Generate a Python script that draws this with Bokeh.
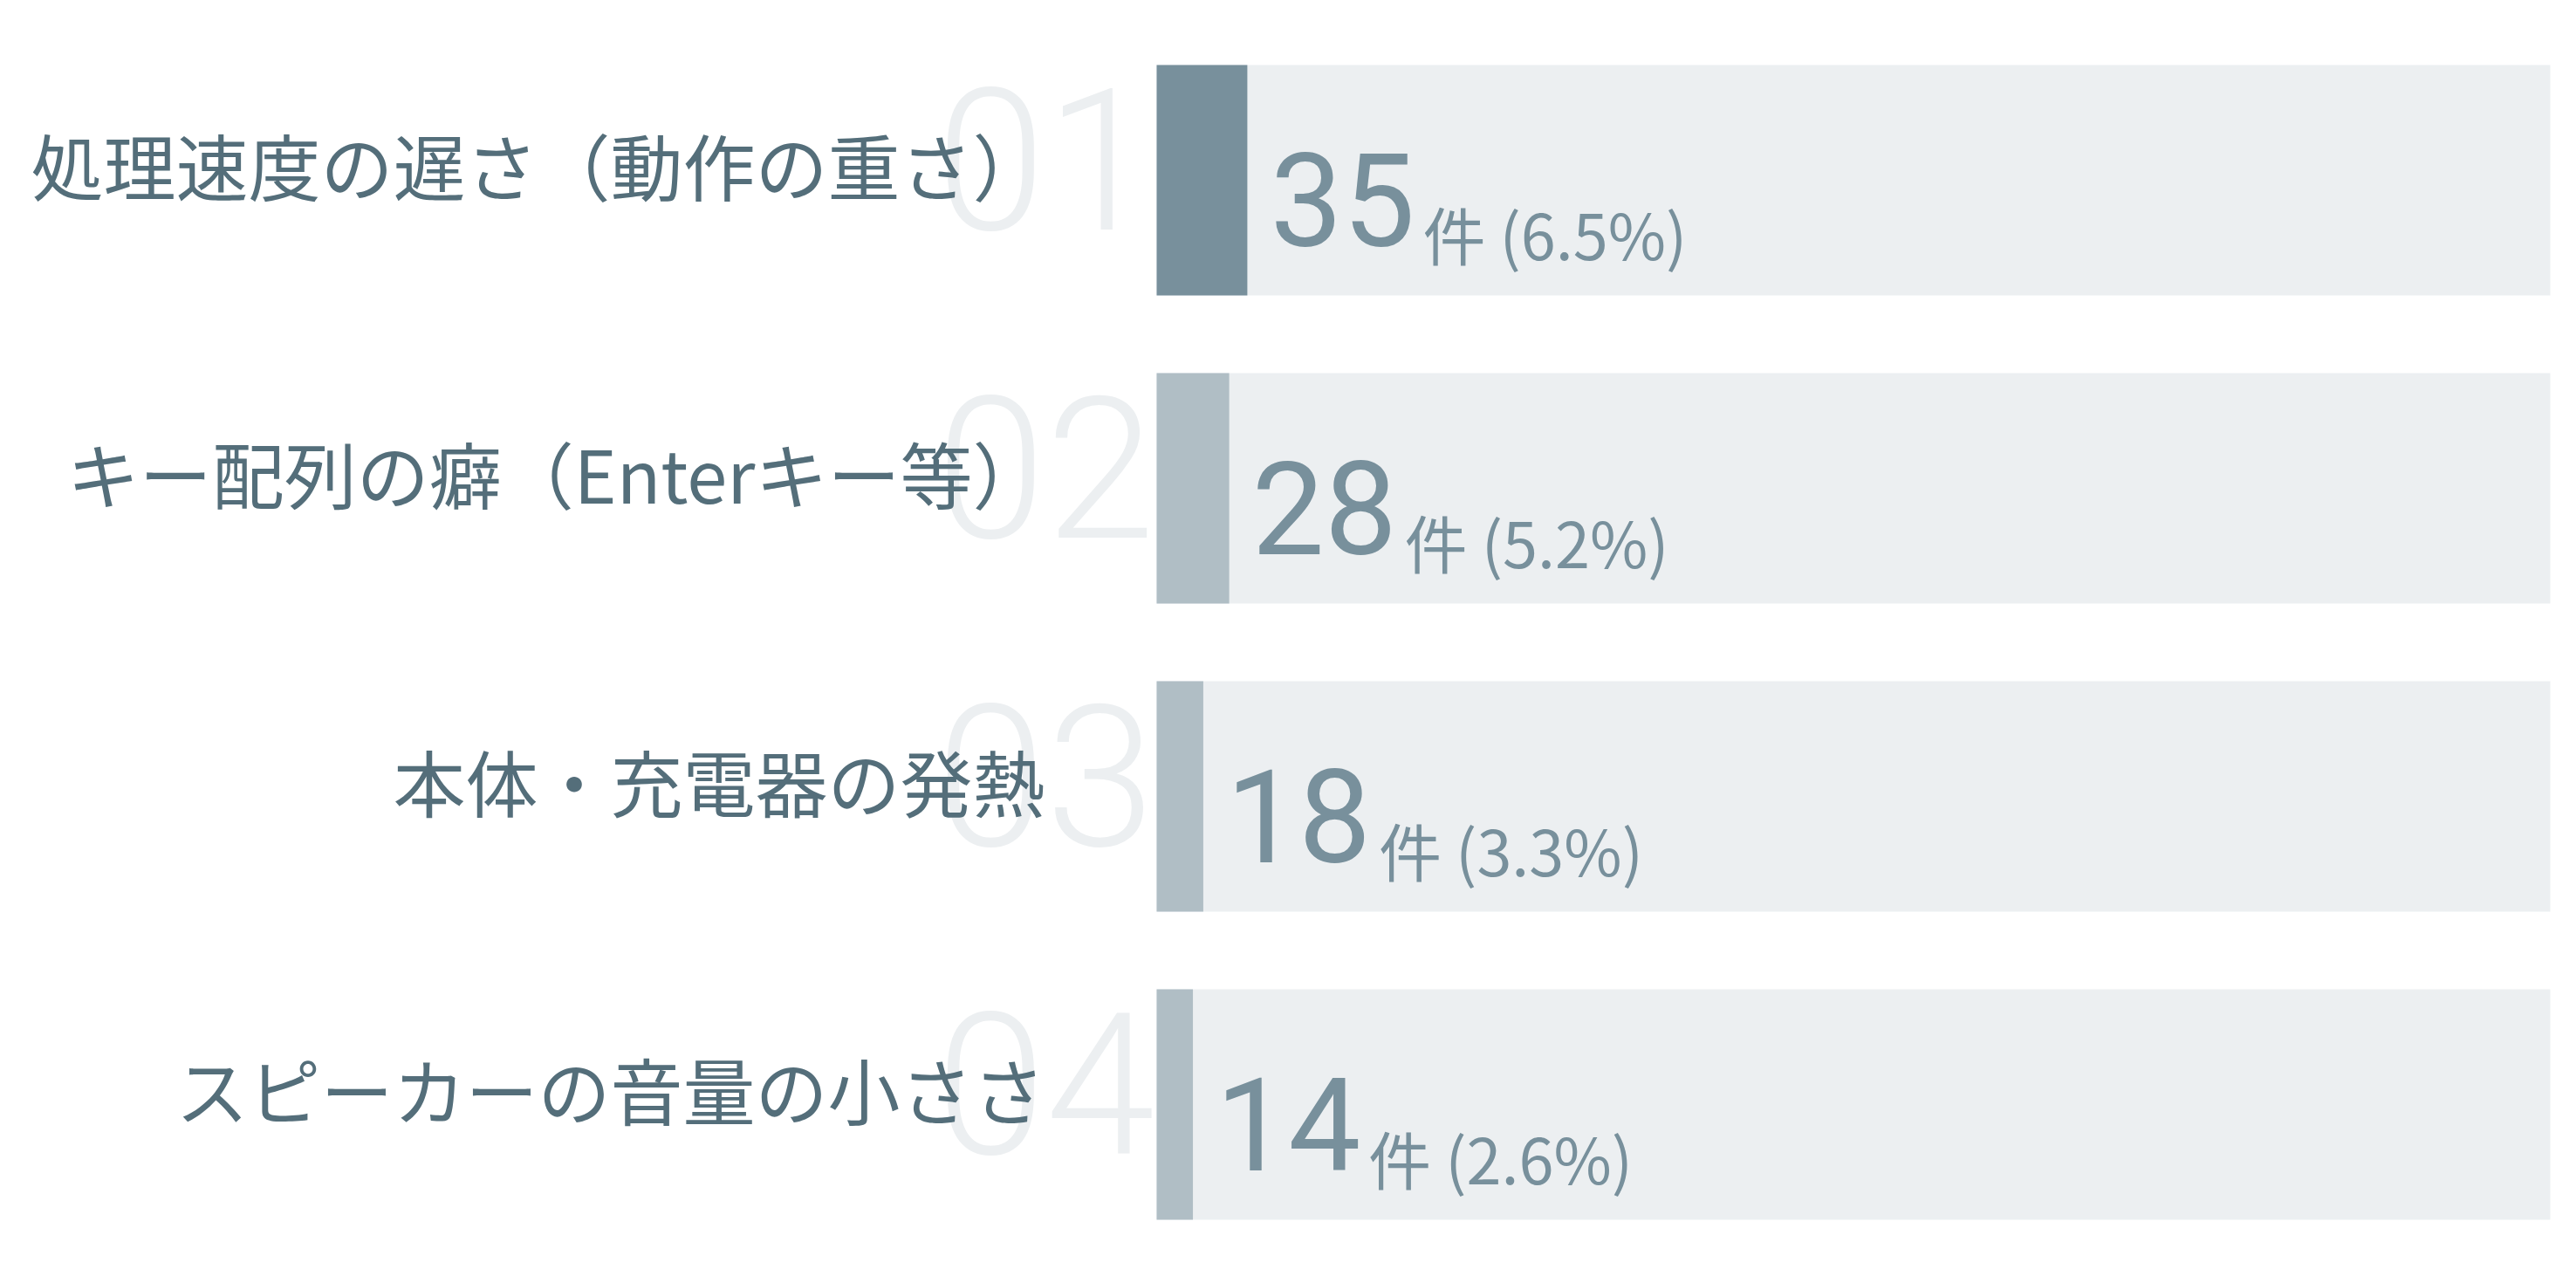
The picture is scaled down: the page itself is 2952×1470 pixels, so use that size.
from bokeh.plotting import figure
from bokeh.models import Range1d, ColumnDataSource
from bokeh.core.properties import value
from bokeh.embed import file_html
from bokeh.resources import INLINE

# ---- data ----
labels = ["処理速度の遅さ（動作の重さ）", "キー配列の癖（Enterキー等）",
          "本体・充電器の発熱", "スピーカーの音量の小ささ"]
counts = [35, 28, 18, 14]
pcts = [6.5, 5.2, 3.3, 2.6]
ranks = ["01", "02", "03", "04"]
total = 538

# ---- layout (pixels inside the plot canvas) ----
W, H = 2940, 1460
BAR_X0, BAR_X1 = 1325, 2922
ROW0, PITCH, BAND = 206, 353, 264

px_per_unit = (BAR_X1 - BAR_X0) / total
x_range = Range1d(-BAR_X0 / px_per_unit, (W - BAR_X0) / px_per_unit)
y_top = -ROW0 / PITCH
y_range = Range1d(y_top + H / PITCH, y_top)

rows = list(range(len(labels)))
fill_colors = ["#78909c"] + ["#b0bec5"] * (len(labels) - 1)

src = ColumnDataSource(dict(
    y=rows,
    label=labels,
    count=counts,
    total=[total] * len(labels),
    rank=ranks,
    color=fill_colors,
    sub=[f"件 ({p:.1f}%)" for p in pcts],
    big=[str(c) for c in counts],
    zero=[0] * len(labels),
))

p = figure(width=W, height=H, x_range=x_range, y_range=y_range,
           output_backend="svg", toolbar_location=None,
           x_axis_location=None, y_axis_location=None,
           min_border=0, background_fill_color="white",
           border_fill_color="white")
p.outline_line_color = None
p.xgrid.visible = False
p.ygrid.visible = False

band_h = BAND / PITCH

# track
p.hbar(y="y", left="zero", right="total", height=band_h, source=src,
       fill_color="#eceff1", line_color=None)
# value fill
p.hbar(y="y", left="zero", right="count", height=band_h, source=src,
       fill_color="color", line_color=None)

# rank numerals (behind labels)
p.text(x="zero", y="y", text="rank", source=src, x_offset=-2, y_offset=-24,
       text_align="right", text_baseline="alphabetic",
       text_font=value("Roboto Light"), text_font_size="226px",
       text_color="#eceff1")

# category labels
p.text(x="zero", y="y", text="label", source=src, x_offset=-128, y_offset=-19,
       text_align="right", text_baseline="middle",
       text_font=value("Noto Sans CJK JP"), text_font_size="83px",
       text_color="#546e7a")

# big value numbers
p.text(x="count", y="y", text="big", source=src, x_offset=26, y_offset=22,
       text_align="left", text_baseline="alphabetic",
       text_font=value("Roboto"), text_font_size="148px",
       text_color="#78909c")

# small unit / percent text
p.text(x="count", y="y", text="sub", source=src, x_offset=201, y_offset=60,
       text_align="left", text_baseline="alphabetic",
       text_font=value("Noto Sans CJK JP"), text_font_size="72px",
       text_color="#78909c")

open("out.html", "w").write(file_html(p, INLINE))
